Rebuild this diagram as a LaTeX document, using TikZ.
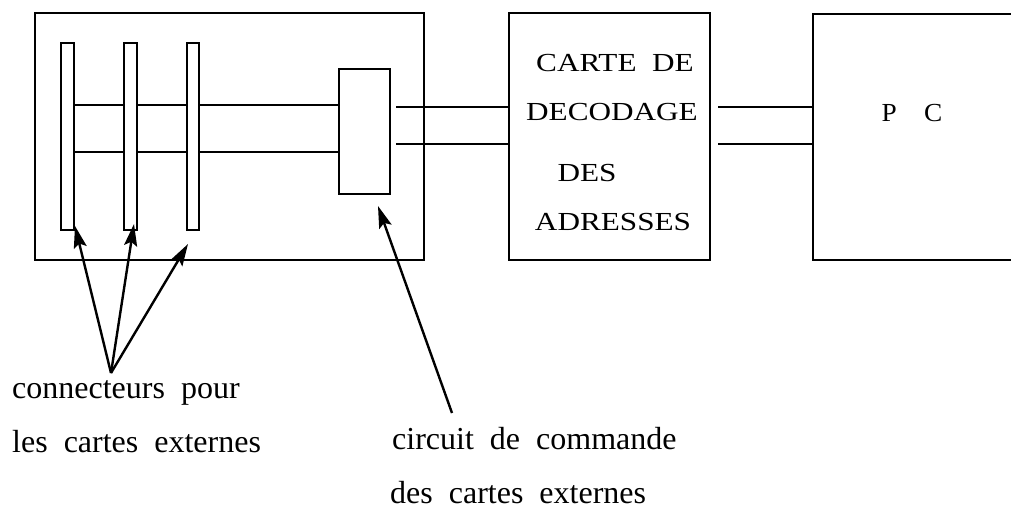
\documentclass[tikz,border=0pt]{standalone}
\usepackage{fontspec}
\setmainfont{Liberation Serif}
\usetikzlibrary{arrows.meta}
\newcommand{\wtxt}[1]{\scalebox{1.2}[1]{#1}}
\begin{document}
\begin{tikzpicture}[x=1pt,y=-1pt,
  box/.style={draw, line width=2pt, inner sep=0pt, anchor=north west, fill=white},
  bus/.style={line width=2pt},
  caps/.style={inner sep=0pt, font=\fontsize{26}{30}\selectfont},
  lbl/.style={inner sep=0pt, anchor=base west, font=\fontsize{32}{36}\selectfont},
  arr/.style={line width=2.4pt, -{Stealth[length=22pt, width=13pt, inset=4pt]}}]
\useasboundingbox (0,0) rectangle (1011,509);
\clip (0,0) rectangle (1011,509);

% carte des connecteurs
\node[box, minimum width=389pt, minimum height=247pt] (outer) at (34,12) {};
\node[box, minimum width=13pt, minimum height=187pt] (bar1) at (60,42) {};
\node[box, minimum width=13pt, minimum height=187pt] (bar2) at (123,42) {};
\node[box, minimum width=12pt, minimum height=187pt] (bar3) at (186,42) {};
\node[box, minimum width=51pt, minimum height=125pt] (cmd) at (338,68) {};

% bus interne
\draw[bus] (bar1.east |- 0,105) -- (cmd.west |- 0,105);
\draw[bus] (bar1.east |- 0,152) -- (cmd.west |- 0,152);
\node[box, minimum width=13pt, minimum height=187pt] at (123,42) {};
\node[box, minimum width=12pt, minimum height=187pt] at (186,42) {};

% carte de decodage
\node[box, minimum width=201pt, minimum height=247pt] (dec) at (508,12) {};
\node[caps] at (615,63) {\wtxt{CARTE\ \ DE}};
\node[caps] at (612,112) {\wtxt{DECODAGE}};
\node[caps] at (587,173) {\wtxt{DES}};
\node[caps] at (613,222) {\wtxt{ADRESSES}};

% PC
\node[box, minimum width=230pt, minimum height=246pt] (pc) at (812,13) {};
\node[caps] at (912,113) {\scalebox{1.05}[1]{P\quad C}};

% liaisons
\draw[bus] ([xshift=5pt]cmd.east |- 0,107) -- (dec.west |- 0,107);
\draw[bus] ([xshift=5pt]cmd.east |- 0,144) -- (dec.west |- 0,144);
\draw[bus] ([xshift=7pt]dec.east |- 0,107) -- (pc.west |- 0,107);
\draw[bus] ([xshift=7pt]dec.east |- 0,144) -- (pc.west |- 0,144);

% legendes
\node[lbl] (l1) at (12,398) {connecteurs\ \ pour};
\node[lbl] (l2) at (12,452) {les\ \ cartes\ \ externes};
\node[lbl] (l3) at (392,449) {circuit\ \ de\ \ commande};
\node[lbl] (l4) at (390,503) {des\ \ cartes\ \ externes};

\coordinate (apex) at (111,373);
\coordinate (tail) at (452,413);
\draw[arr] (apex) -- ([yshift=5pt]bar1.south east);
\draw[arr] (apex) -- ([xshift=3.5pt,yshift=7pt]bar2.south);
\draw[arr] (apex) -- ([xshift=-5pt,yshift=-13pt]bar3.south);
\draw[arr] (tail) -- ([xshift=13.5pt,yshift=-11pt]cmd.south);
\end{tikzpicture}
\end{document}
